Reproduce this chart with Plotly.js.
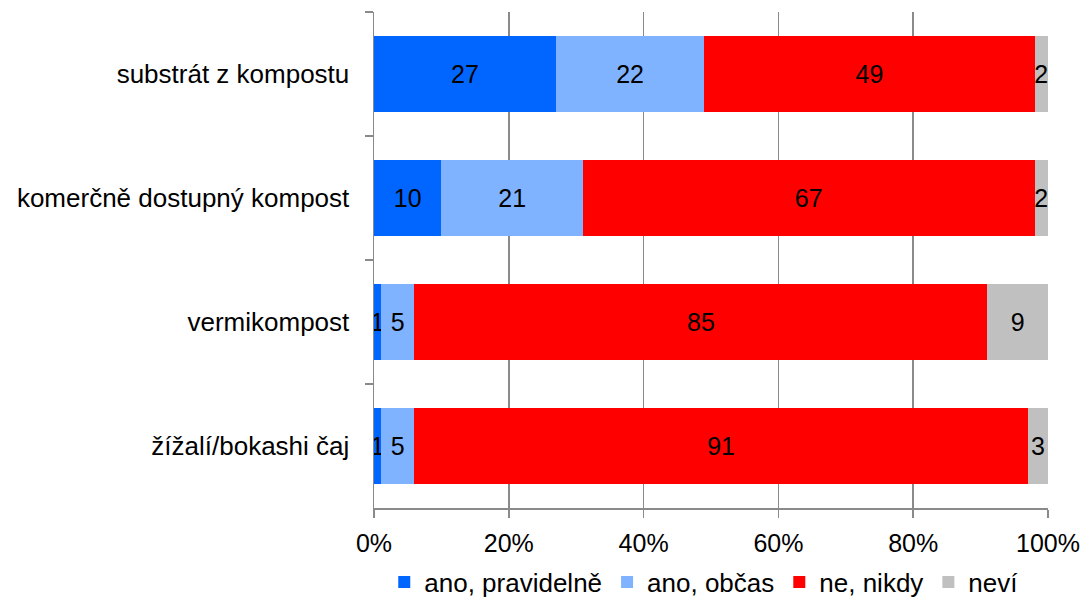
<!DOCTYPE html>
<html>
<head>
<meta charset="utf-8">
<script src="https://cdn.plot.ly/plotly-3.0.1.min.js"></script>
<style>html,body{margin:0;padding:0;background:#fff;}#chart{width:1086px;height:600px;}</style>
</head>
<body>
<div id="chart"></div>
<script>
const categories = ["substrát z kompostu", "komerčně dostupný kompost", "vermikompost", "žížalí/bokashi čaj"];
const seriesNames = ["ano, pravidelně", "ano, občas", "ne, nikdy", "neví"];
const anoPravidelne = [27, 10, 1, 1];
const anoObcas = [22, 21, 5, 5];
const neNikdy = [49, 67, 85, 91];
const nevi = [2, 2, 9, 3];
const xTickVals = [0, 20, 40, 60, 80, 100];
const xTickText = ["0%", "20%", "40%", "60%", "80%", "100%"];

const colors = ["#0066FF", "#80B3FF", "#FF0000", "#C0C0C0"];
const series = [anoPravidelne, anoObcas, neNikdy, nevi];
const FONT = "Liberation Sans, Arial, sans-serif";

const traces = series.map((vals, i) => ({
  type: "bar",
  orientation: "h",
  name: seriesNames[i],
  y: categories,
  x: vals,
  text: vals.map(String),
  textposition: "inside",
  insidetextanchor: "middle",
  constraintext: "none",
  textfont: {family: FONT, size: 25, color: "#000"},
  marker: {color: colors[i], line: {width: 0}},
  hoverinfo: "name+x"
}));

const layout = {
  width: 1086,
  height: 600,
  margin: {l: 374, r: 38, t: 12, b: 92},
  barmode: "stack",
  bargap: 0.38,
  paper_bgcolor: "#fff",
  plot_bgcolor: "#fff",
  font: {family: FONT, size: 26, color: "#000"},
  xaxis: {
    range: [0, 100],
    tickvals: xTickVals,
    ticktext: xTickText,
    showgrid: true,
    gridcolor: "#8a8a8a",
    gridwidth: 1.5,
    zeroline: false,
    showline: true,
    linecolor: "#8a8a8a",
    linewidth: 1.5,
    ticks: "outside",
    ticklen: 8,
    tickwidth: 1.5,
    tickcolor: "#8a8a8a",
    ticklabelstandoff: 4,
    tickfont: {family: FONT, size: 25, color: "#000"},
    fixedrange: true
  },
  yaxis: {
    type: "category",
    autorange: "reversed",
    showline: true,
    linecolor: "#8a8a8a",
    linewidth: 1.5,
    ticks: "outside",
    tickson: "boundaries",
    ticklen: 8,
    tickwidth: 1.5,
    tickcolor: "#8a8a8a",
    showgrid: false,
    ticklabelstandoff: 18,
    tickfont: {family: FONT, size: 26, color: "#000"},
    fixedrange: true
  },
  legend: {
    orientation: "h",
    xref: "paper",
    x: 0.49,
    xanchor: "center",
    yref: "container",
    y: 0.03,
    yanchor: "middle",
    font: {family: FONT, size: 26, color: "#000"},
    traceorder: "normal",
    itemwidth: 30,
    tracegroupgap: 0
  },
  showlegend: true
};

Plotly.newPlot("chart", traces, layout, {displayModeBar: false, staticPlot: true});
</script>
</body>
</html>
